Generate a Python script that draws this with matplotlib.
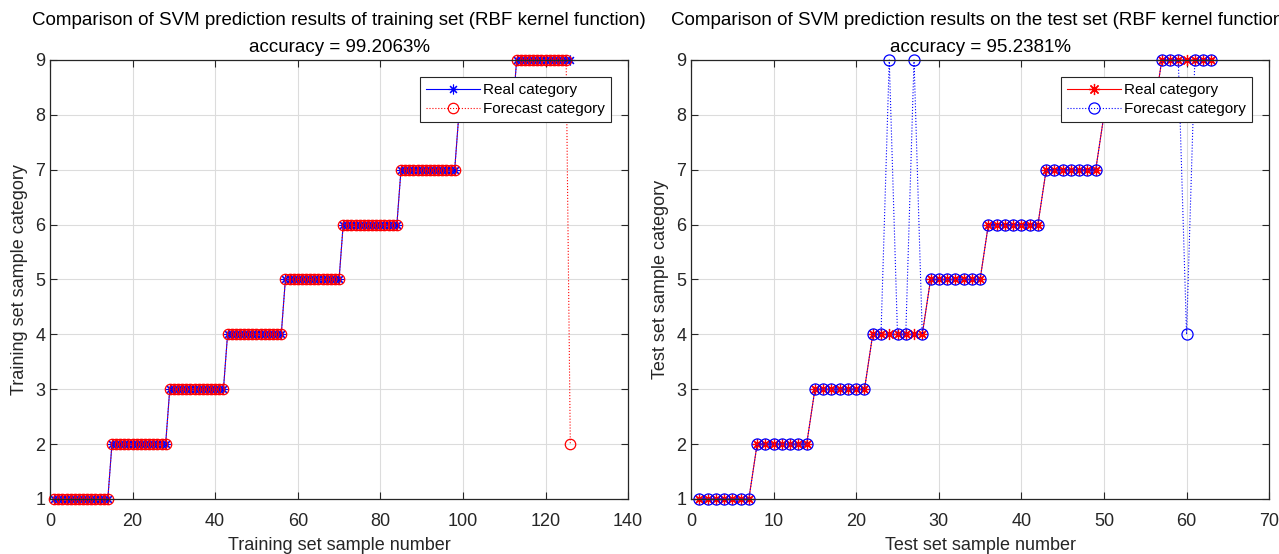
import numpy as np
import matplotlib
matplotlib.use("Agg")
import matplotlib.pyplot as plt

plt.rcParams['font.family'] = ['Liberation Sans', 'DejaVu Sans']

# training set: 14 samples per class, last one misclassified
train_real = [1]*14 + [2]*14 + [3]*14 + [4]*14 + [5]*14 + [6]*14 + [7]*14 + [8]*14 + [9]*14
train_pred = [1]*14 + [2]*14 + [3]*14 + [4]*14 + [5]*14 + [6]*14 + [7]*14 + [8]*14 + [9]*13 + [2]
train_acc = 99.2063

# test set: 7 samples per class
test_real = [1]*7 + [2]*7 + [3]*7 + [4]*7 + [5]*7 + [6]*7 + [7]*7 + [8]*7 + [9]*7
test_pred = ([1]*7 + [2]*7 + [3]*7 + [4, 4, 9, 4, 4, 9, 4] + [5]*7 + [6]*7 + [7]*7 + [8]*7
             + [9, 9, 9, 4, 9, 9, 9])
test_acc = 95.2381

fig = plt.figure(figsize=(12.79, 5.54), dpi=100)
ax1 = fig.add_axes([0.0391, 0.0993, 0.452, 0.7924])
ax2 = fig.add_axes([0.5403, 0.0993, 0.452, 0.7924])

ASTER = (8, 2, 0)  # matlab-like asterisk


def style_axes(ax, xmax, xstep, xlabel, ylabel, title):
    ax.set_xlim(0, xmax)
    ax.set_ylim(1, 9)
    ax.set_xticks(np.arange(0, xmax + 1, xstep))
    ax.set_yticks(range(1, 10))
    ax.grid(True, color='#dcdcdc', linewidth=0.8)
    ax.set_axisbelow(True)
    ax.tick_params(direction='in', length=5, labelsize=13, top=True, right=True,
                   labelcolor='#262626', color='#262626')
    ax.tick_params(axis='x', pad=10)
    for s in ax.spines.values():
        s.set_color('#262626')
        s.set_linewidth(0.9)
    ax.set_xlabel(xlabel, fontsize=13, color='#262626', labelpad=5)
    ax.set_ylabel(ylabel, fontsize=13, color='#262626', labelpad=5)
    ax.set_title(title, fontsize=13.5, color='black', pad=6, linespacing=1.75)
    leg = ax.legend(loc='upper right', fontsize=11, fancybox=False, framealpha=1,
                    edgecolor='#262626', borderaxespad=1.1, handlelength=3.5,
                    borderpad=0.4, labelspacing=0.35, handletextpad=0.25)
    leg.get_frame().set_linewidth(0.8)
    leg.set_zorder(10)


x1 = np.arange(1, len(train_real) + 1)
ax1.plot(x1, train_real, '-', marker=ASTER, color='blue', lw=0.8, ms=7, mew=0.8,
         label='Real category')
ax1.plot(x1, train_pred, ':o', color='red', lw=0.8, ms=7.5, mfc='none', mew=0.9,
         label='Forecast category')
style_axes(ax1, 140, 20, 'Training set sample number', 'Training set sample category',
           'Comparison of SVM prediction results of training set (RBF kernel function)\n'
           'accuracy = %.4f%%' % train_acc)

x2 = np.arange(1, len(test_real) + 1)
ax2.plot(x2, test_real, '-', marker=ASTER, color='red', lw=0.8, ms=8, mew=0.9,
         label='Real category')
ax2.plot(x2, test_pred, ':o', color='blue', lw=0.8, ms=8, mfc='none', mew=0.9,
         label='Forecast category')
style_axes(ax2, 70, 10, 'Test set sample number', 'Test set sample category',
           'Comparison of SVM prediction results on the test set (RBF kernel function)\n'
           'accuracy = %.4f%%' % test_acc)

for ax in (ax1, ax2):
    for ln in ax.lines:
        ln.set_clip_on(False)

fig.savefig('out.png', dpi=100)
